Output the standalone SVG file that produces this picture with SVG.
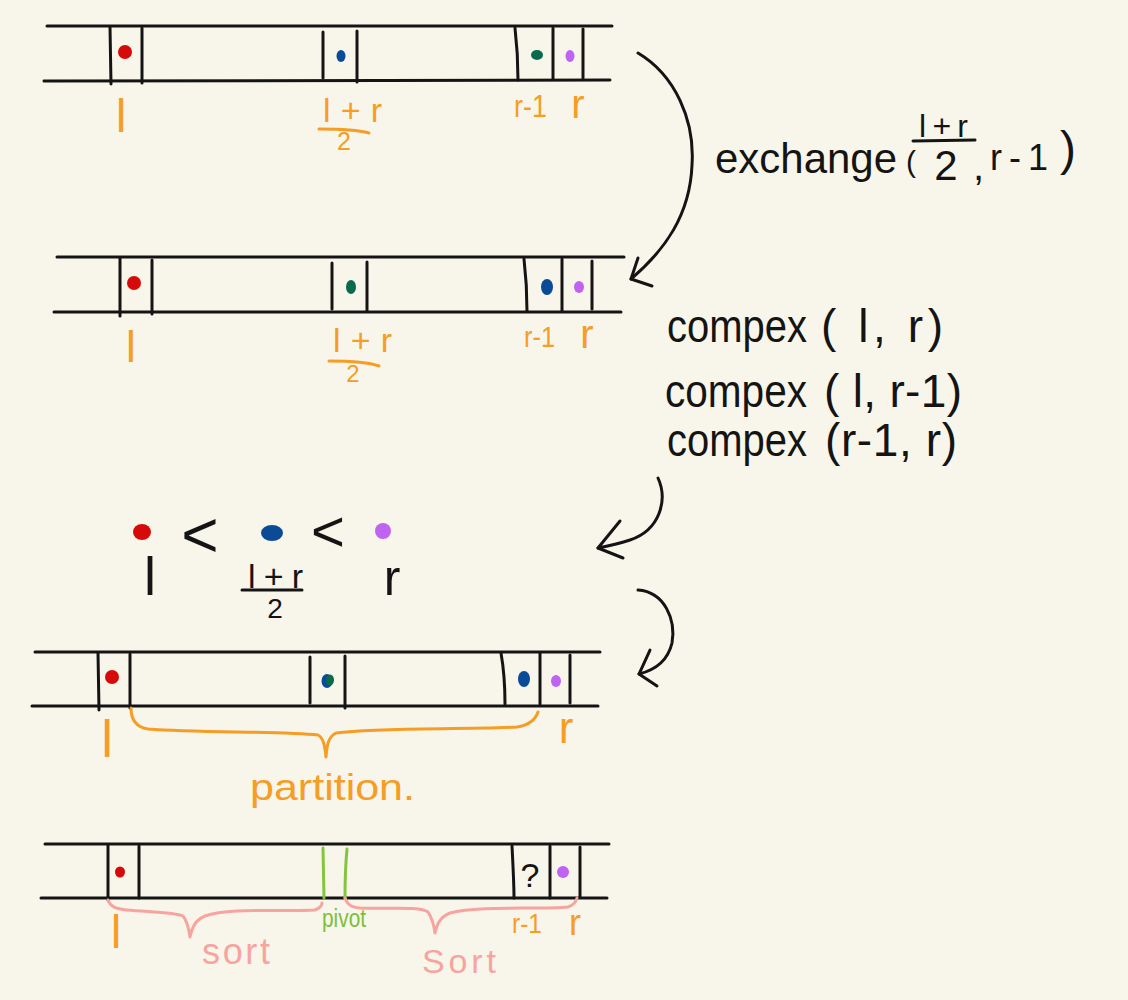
<svg xmlns="http://www.w3.org/2000/svg" width="1128" height="1000" viewBox="0 0 1128 1000">
<style>
.ink{stroke:#141414;stroke-width:3;fill:none;stroke-linecap:round;stroke-linejoin:round}
.or{stroke:#f59d24;stroke-width:3;fill:none;stroke-linecap:round;stroke-linejoin:round}
.pk{stroke:#f7a4a0;stroke-width:3;fill:none;stroke-linecap:round;stroke-linejoin:round}
.gl{stroke:#86c440;stroke-width:3;fill:none;stroke-linecap:round}
text{font-family:"Liberation Sans","Noto Sans",sans-serif}
.t{fill:#141414}
.to{fill:#f59d24}
.tp{fill:#f7a4a0}
.tg{fill:#7dbf3a}
.red{fill:#d60a0a}
.blue{fill:#0b4a96}
.green{fill:#0a6b4c}
.purple{fill:#c062f2}
</style>
<rect width="1128" height="1000" fill="#f8f6ea"/>

<g id="array1">
<path class="ink" d="M47,26 L612,26 M44,81 L610,80"/>
<path class="ink" d="M110,27 L111,84 M142,28 L142,83 M323,32 L323,78 M357,31 L357,82 M515,28 C517,45 518,65 518,80 M553,28 L553,79 M583,29 L583,78"/>
<ellipse class="red" cx="125" cy="52" rx="7" ry="7"/>
<ellipse class="blue" cx="341" cy="56" rx="4.5" ry="6"/>
<ellipse class="green" cx="537" cy="55" rx="6" ry="5"/>
<ellipse class="purple" cx="570" cy="56" rx="4.5" ry="6"/>
<text class="to" x="121" y="132" font-size="46" text-anchor="middle">l</text>
<text class="to" x="323" y="122" font-size="34" textLength="59" lengthAdjust="spacing">l+r</text>
<path class="or" d="M319,129 C340,129 358,130 369,133"/>
<text class="to" x="344" y="150" font-size="25" text-anchor="middle">2</text>
<text class="to" x="514" y="117" font-size="32" textLength="33" lengthAdjust="spacingAndGlyphs">r-1</text>
<text class="to" x="578" y="118" font-size="40" text-anchor="middle">r</text>
</g>

<g id="exchange-label">
<text class="t" x="715" y="173" font-size="42" textLength="182" lengthAdjust="spacingAndGlyphs">exchange</text>
<text class="t" x="906" y="172" font-size="30">(</text>
<text class="t" x="919" y="137" font-size="32" textLength="49" lengthAdjust="spacing">l+r</text>
<path class="ink" d="M913,141 L975,140"/>
<text class="t" x="946" y="180" font-size="42" text-anchor="middle">2</text>
<text class="t" x="973" y="180" font-size="40">,</text>
<text class="t" x="990" y="170" font-size="36" textLength="58" lengthAdjust="spacing">r-1</text>
<text class="t" x="1060" y="165" font-size="48">)</text>
</g>

<g id="array2">
<path class="ink" d="M57,257 L624,257 M54,312 L621,312"/>
<path class="ink" d="M120,258 L120,316 M152,260 L152,314 M332,263 L332,309 M367,262 L367,311 M524,259 C526,276 527,295 527,311 M562,259 L562,311 M592,261 L592,309"/>
<ellipse class="red" cx="134" cy="283" rx="7" ry="7"/>
<ellipse class="green" cx="351" cy="287" rx="5" ry="7"/>
<ellipse class="blue" cx="547" cy="287" rx="6" ry="8"/>
<ellipse class="purple" cx="579" cy="287" rx="5" ry="6"/>
<text class="to" x="131" y="362" font-size="44" text-anchor="middle">l</text>
<text class="to" x="333" y="352" font-size="34" textLength="59" lengthAdjust="spacing">l+r</text>
<path class="or" d="M329,361 C350,361 368,362 379,366"/>
<text class="to" x="353" y="382" font-size="24" text-anchor="middle">2</text>
<text class="to" x="524" y="347" font-size="30" textLength="31" lengthAdjust="spacingAndGlyphs">r-1</text>
<text class="to" x="587" y="348" font-size="40" text-anchor="middle">r</text>
</g>

<g id="compex-label">
<text class="t" x="667" y="342" font-size="46" textLength="140" lengthAdjust="spacingAndGlyphs">compex</text>
<text class="t" x="821" y="342" font-size="46" textLength="122" lengthAdjust="spacing">( l, r)</text>
<text class="t" x="665" y="407" font-size="46" textLength="142" lengthAdjust="spacingAndGlyphs">compex</text>
<text class="t" x="824" y="407" font-size="46" textLength="138" lengthAdjust="spacing">( l, r-1)</text>
<text class="t" x="667" y="456" font-size="46" textLength="140" lengthAdjust="spacingAndGlyphs">compex</text>
<text class="t" x="825" y="456" font-size="46" textLength="132" lengthAdjust="spacing">(r-1, r)</text>
</g>

<g id="comparison">
<ellipse class="red" cx="142" cy="532" rx="9" ry="8"/>
<text class="t" x="200" y="557" font-size="64" text-anchor="middle">&lt;</text>
<ellipse class="blue" cx="272" cy="533" rx="11" ry="8"/>
<text class="t" x="328" y="551" font-size="58" text-anchor="middle">&lt;</text>
<ellipse class="purple" cx="383" cy="531" rx="8" ry="8"/>
<text class="t" x="150" y="595" font-size="54" text-anchor="middle">l</text>
<text class="t" x="248" y="588" font-size="34" textLength="55" lengthAdjust="spacing">l+r</text>
<path class="ink" d="M242,590 L302,590"/>
<text class="t" x="275" y="618" font-size="28" text-anchor="middle">2</text>
<text class="t" x="392" y="595" font-size="50" text-anchor="middle">r</text>
</g>

<g id="array3">
<path class="ink" d="M35,652 L600,652 M32,706 L598,706"/>
<path class="ink" d="M98,653 L99,710 M130,654 L130,708 M310,657 L310,703 M345,656 L345,708 M501,653 C504,670 505,688 505,704 M540,653 L540,704 M570,655 L570,703"/>
<ellipse class="red" cx="112" cy="677" rx="7" ry="7"/>
<ellipse class="blue" cx="327" cy="681" rx="5.5" ry="7"/>
<ellipse class="green" cx="330" cy="680" rx="4" ry="5.5"/>
<ellipse class="blue" cx="524" cy="679" rx="6" ry="8"/>
<ellipse class="purple" cx="556" cy="681" rx="5" ry="6"/>
<text class="to" x="107" y="757" font-size="52" text-anchor="middle">l</text>
<text class="to" x="566" y="743" font-size="44" text-anchor="middle">r</text>
<path class="or" d="M131,708 C131,718 135,727 148,729 C200,733 280,731 318,735 C324,738 325,748 326,757 C327,745 328,737 336,733 C380,727 460,730 517,727 C530,725 536,718 538,712"/>
<text class="to" x="250" y="800" font-size="36" textLength="165" lengthAdjust="spacingAndGlyphs">partition.</text>
</g>

<g id="array4">
<path class="ink" d="M45,844 L609,844 M41,898 L607,898"/>
<path class="ink" d="M108,845 L108,900 M139,846 L139,898 M512,846 C513,865 514,885 514,898 M550,846 L550,898 M580,847 L580,897"/>
<path class="gl" d="M323,848 L324,898 M347,849 C345,870 345,885 345,898"/>
<ellipse class="red" cx="120" cy="872" rx="5" ry="5.5"/>
<text class="t" x="530" y="887" font-size="34" text-anchor="middle">?</text>
<ellipse class="purple" cx="563" cy="872" rx="6" ry="6"/>
<path class="pk" d="M108,900 C110,906 115,909 127,910 C150,912 175,912 183,916 C188,922 189,930 190,937 C192,928 195,920 205,916 C230,907 280,912 315,910 C320,908 322,905 322,903"/>
<path class="pk" d="M345,898 C347,904 350,907 360,908 C390,909 420,906 428,912 C432,918 434,926 435,933 C437,924 440,917 450,913 C480,905 540,910 568,907 C574,905 576,902 577,898"/>
<text class="to" x="116" y="948" font-size="46" text-anchor="middle">l</text>
<text class="tg" x="322" y="927" font-size="26" textLength="44" lengthAdjust="spacingAndGlyphs">pivot</text>
<text class="tp" x="202" y="964" font-size="36" textLength="68" lengthAdjust="spacing">sort</text>
<text class="tp" x="422" y="973" font-size="34" textLength="74" lengthAdjust="spacing">Sort</text>
<text class="to" x="512" y="933" font-size="28" textLength="30" lengthAdjust="spacingAndGlyphs">r-1</text>
<text class="to" x="575" y="935" font-size="36" text-anchor="middle">r</text>
</g>

<g id="connectors">
<path class="ink" d="M638,53 C675,75 695,120 692,165 C690,215 665,250 631,279"/>
<path class="ink" d="M638,258 L631,279 L652,286"/>
<path class="ink" d="M658,478 C668,500 660,530 630,540 C618,544 608,546 598,548"/>
<path class="ink" d="M620,521 L598,548 L623,558"/>
<path class="ink" d="M638,590 C665,592 676,620 672,643 C668,660 655,670 639,674"/>
<path class="ink" d="M650,650 L639,674 L657,686"/>
</g>
</svg>
